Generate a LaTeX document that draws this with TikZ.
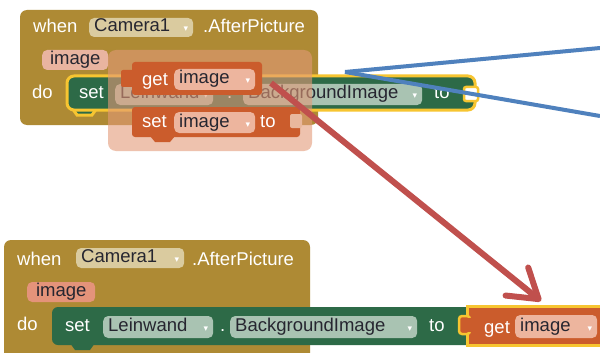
\documentclass[tikz,border=0pt]{standalone}
\usepackage{fontspec}
\setmainfont{Liberation Sans}
\newfontfamily\ddf{DejaVu Sans}
\usetikzlibrary{arrows.meta}
\definecolor{olivec}{HTML}{AE8A34}
\definecolor{greenc}{HTML}{2D6A47}
\definecolor{gpill}{HTML}{A9C3B2}
\definecolor{tanc}{HTML}{DACB9F}
\definecolor{parT}{HTML}{E9B4A0}
\definecolor{parB}{HTML}{E4937A}
\definecolor{orangec}{HTML}{CB5C2C}
\definecolor{opill}{HTML}{EDB59E}
\definecolor{yellowc}{HTML}{F7C531}
\definecolor{overc}{HTML}{E39A78}
\definecolor{sockc}{HTML}{E9B79D}
\definecolor{txtc}{HTML}{262630}
\definecolor{bluec}{HTML}{4F81BD}
\definecolor{redc}{HTML}{C0504D}
\newcommand{\tri}{{\ddf\fontsize{9}{9}\selectfont\color{white}▾}}
\newcommand{\pl}[2]{\makebox[#1][l]{#2\hfill\tri}}
\newcommand{\pc}[2]{\makebox[#1][c]{#2}}
\begin{document}
\begin{tikzpicture}[x=1pt,y=-1pt,
  fs/.style={font=\fontsize{18.5}{20}\selectfont},
  wtxt/.style={fs, text=white, anchor=base west, inner sep=0pt},
  pill/.style={fs, rounded corners=5pt, inner xsep=5pt, inner ysep=0pt,
    text height=13pt, text depth=4pt, anchor=west, text=txtc},
  blueline/.style={draw=bluec, line width=4pt},
  redarrow/.style={draw=redc, line width=6pt,
    -{Straight Barb[length=28pt,width=36pt,round]}}]
\clip (0,0) rectangle (600,353);
\fill[white] (0,0) rectangle (600,353);

% ===== top event block =====
\fill[olivec, rounded corners=7pt] (20,10) rectangle (318,125);
\node[wtxt] (whenT) at (33,33) {when};
\node[pill, fill=tanc, minimum height=19pt] (camT) at (89,27.5) {\pl{94pt}{Camera1}};
\node[wtxt] (afterT) at (203,33) {.AfterPicture};
\node[pill, fill=parT, minimum height=20pt] (imgT) at (42,60) {\pc{56pt}{image}};
\node[wtxt] (doT) at (32,99) {do};
% green setter (selected)
\path[fill=greenc, draw=yellowc, line width=3pt] (72,108) -- (77,115) -- (92,115) -- (97,108) -- cycle;
\path[fill=greenc, draw=yellowc, line width=3pt, rounded corners=7pt] (67,76) rectangle (475,110);
\path[fill=white, draw=yellowc, line width=2.5pt, rounded corners=2pt] (464,87) rectangle (478,101);
\node[wtxt] (setT) at (79,99) {set};
\node[pill, fill=gpill, minimum height=21pt] (leinT) at (115,94.5) {\pl{88pt}{Leinwand}};
\node[wtxt] (dotT) at (227,99) {.};
\node[pill, fill=gpill, minimum height=21pt] (bgT) at (243,94.5) {\pl{169pt}{BackgroundImage}};
\node[wtxt] (toT) at (434,99) {to};

% dragged group overlay
\fill[overc, opacity=0.6, rounded corners=8pt] (108,50) rectangle (312,151);
% get block
\fill[orangec, rounded corners=2pt] (121,70) rectangle (135,87);
\fill[orangec, rounded corners=3pt] (132,62) rectangle (262,95);
\node[wtxt] (getT) at (142,85) {get};
\node[pill, fill=opill, minimum height=21pt] (gpT) at (174,79.5) {\pl{71pt}{image}};
% set block
\fill[orangec] (150,136) -- (155,142) -- (170,142) -- (175,136) -- cycle;
\fill[orangec, rounded corners=3pt] (132,107) rectangle (300,137);
\fill[sockc, rounded corners=2pt] (290,114) rectangle (302,128);
\node[wtxt] (setT2) at (142,128) {set};
\node[pill, fill=opill, minimum height=21pt] (spT) at (174,122.5) {\pl{71pt}{image}};
\node[wtxt] (toT2) at (260,128) {to};

% ===== bottom event block =====
\fill[olivec, rounded corners=7pt] (4,240) rectangle (310,370);
\node[wtxt] (whenB) at (17,265) {when};
\node[pill, fill=tanc, minimum height=20pt] (camB) at (76,258) {\pl{98pt}{Camera1}};
\node[wtxt] (afterB) at (192,265) {.AfterPicture};
\node[pill, fill=parB, minimum height=20pt] (imgB) at (27,292) {\pc{58pt}{image}};
\node[wtxt] (doB) at (17,330) {do};
\fill[greenc] (70,343) -- (75,350) -- (90,350) -- (95,343) -- cycle;
\fill[greenc, rounded corners=6pt] (52,307) rectangle (472,345);
\node[wtxt] (setB) at (65,331) {set};
\node[pill, fill=gpill, minimum height=22pt] (leinB) at (103,327) {\pl{100pt}{Leinwand}};
\node[wtxt] (dotB) at (220,331) {.};
\node[pill, fill=gpill, minimum height=22pt] (bgB) at (230,327) {\pl{177pt}{BackgroundImage}};
\node[wtxt] (toB) at (429,331) {to};
% get block (selected)
\path[fill=orangec, draw=yellowc, line width=3pt] (467,306) rectangle (620,345);
\path[fill=orangec, draw=yellowc, line width=2.5pt, rounded corners=3pt] (459,316) rectangle (470,334);
\fill[orangec] (466,318) rectangle (472,332);
\node[wtxt] (getB) at (484,333) {get};
\node[pill, fill=opill, minimum height=23pt] (gpB) at (515,326.5) {\pl{72pt}{image}};

% ===== connectors =====
\coordinate (bO) at (345,72);
\coordinate (bU) at (600,48);
\coordinate (bD) at (600,116);
\draw[blueline] (bO) -- (bU);
\draw[blueline] (bO) -- (bD);
\coordinate (rS) at (271,83);
\coordinate (rE) at (541,301);
\draw[redarrow] (rS) -- (rE);
\end{tikzpicture}
\end{document}
